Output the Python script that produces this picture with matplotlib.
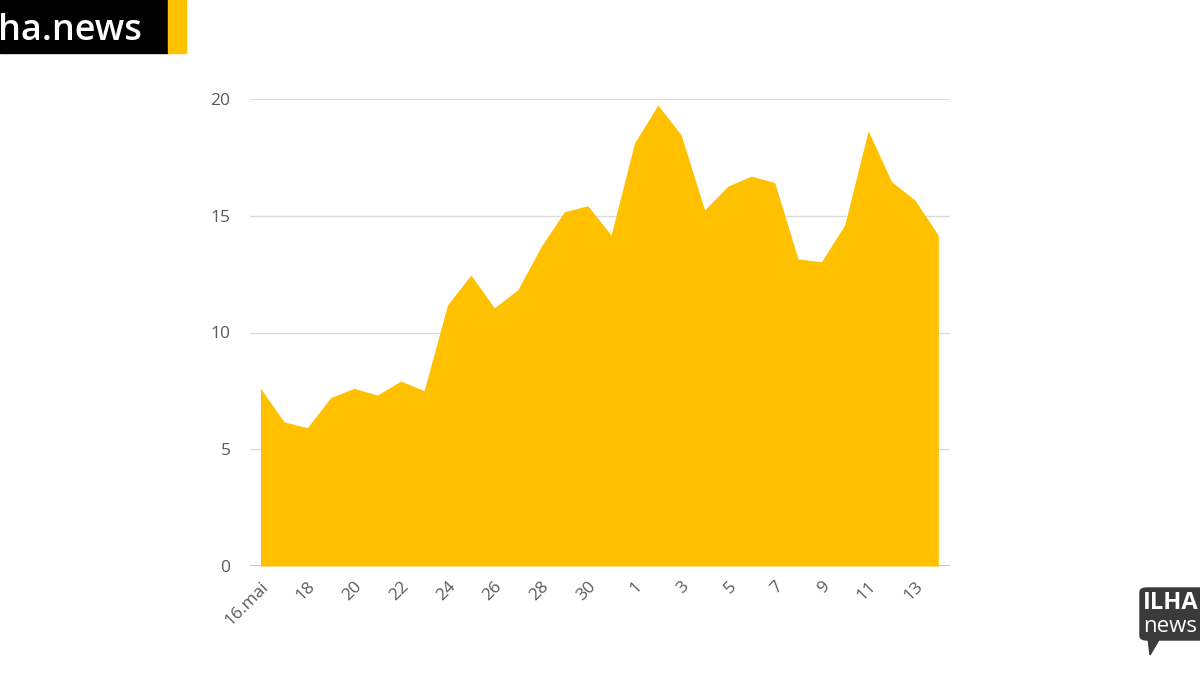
import numpy as np
import matplotlib.pyplot as plt
from matplotlib.patches import FancyBboxPatch, Rectangle, Polygon

plt.rcParams['font.family'] = ['Open Sans', 'DejaVu Sans']

# daily values, 16 May -> 14 June
days = list(range(16, 32)) + list(range(1, 15))
values = [7.61, 6.18, 5.92, 7.21, 7.61, 7.32, 7.92, 7.51, 11.18, 12.46,
          11.06, 11.82, 13.67, 15.17, 15.43, 14.17, 18.11, 19.74, 18.46, 15.25,
          16.27, 16.70, 16.42, 13.15, 13.03, 14.62, 18.64, 16.46, 15.67, 14.17]
tick_labels = ["16.mai", "18", "20", "22", "24", "26", "28", "30",
               "1", "3", "5", "7", "9", "11", "13"]
y_ticks = [0, 5, 10, 15, 20]

yellow = "#FFC000"
x = np.arange(len(values))

fig = plt.figure(figsize=(12, 6.75), dpi=100)
ax = fig.add_axes([250/1200, 1-566/675, 700/1200, 467/675])

ax.fill_between(x, 0, values, color=yellow, lw=0, zorder=2)

ax.set_xlim(-0.45, 29.5)
ax.set_ylim(0, 20)
ax.set_yticks(y_ticks)
ax.set_yticklabels([str(v) for v in y_ticks])
ax.set_xticks(x[::2])
ax.set_xticklabels(tick_labels, rotation=45, ha="right", va="top",
                   rotation_mode="anchor")

for v in y_ticks[1:]:
    ax.axhline(v, color="#dcdcdc", lw=1, zorder=1)
ax.axhline(0, color="#bdbdbd", lw=1.2, zorder=3)

for s in ax.spines.values():
    s.set_visible(False)
ax.tick_params(axis="both", length=0, colors="#5a5a5a", labelsize=12.5)
ax.tick_params(axis="y", pad=14)
ax.tick_params(axis="x", pad=9)

# top-left brand
fig.patches.append(Rectangle((0, 1-53/675), 168/1200, 53/675,
                             transform=fig.transFigure, color="black"))
fig.patches.append(Rectangle((168/1200, 1-53/675), 18/1200, 53/675,
                             transform=fig.transFigure, color=yellow))
fig.text(-0.002, 1-27/675, "ha.news", color="white", fontsize=26,
         fontweight="semibold", va="center_baseline", ha="left")

# bottom-right logo
fig.patches.append(FancyBboxPatch((1140/1200, 1-640/675), 70/1200, 52/675,
                                  boxstyle="round,pad=0,rounding_size=0.006",
                                  transform=fig.transFigure, color="#3a3a3a"))
fig.patches.append(Polygon([(1148/1200, 1-638/675), (1160/1200, 1-638/675),
                            (1150/1200, 1-655/675)],
                           transform=fig.transFigure, color="#3a3a3a"))
fig.text(1143/1200, 1-603/675, "ILHA", color="white", fontsize=17,
         fontweight="bold", va="center", ha="left")
fig.text(1143/1200, 1-626/675, "news", color="white", fontsize=16,
         va="center", ha="left")

fig.savefig("out.png", dpi=100)
